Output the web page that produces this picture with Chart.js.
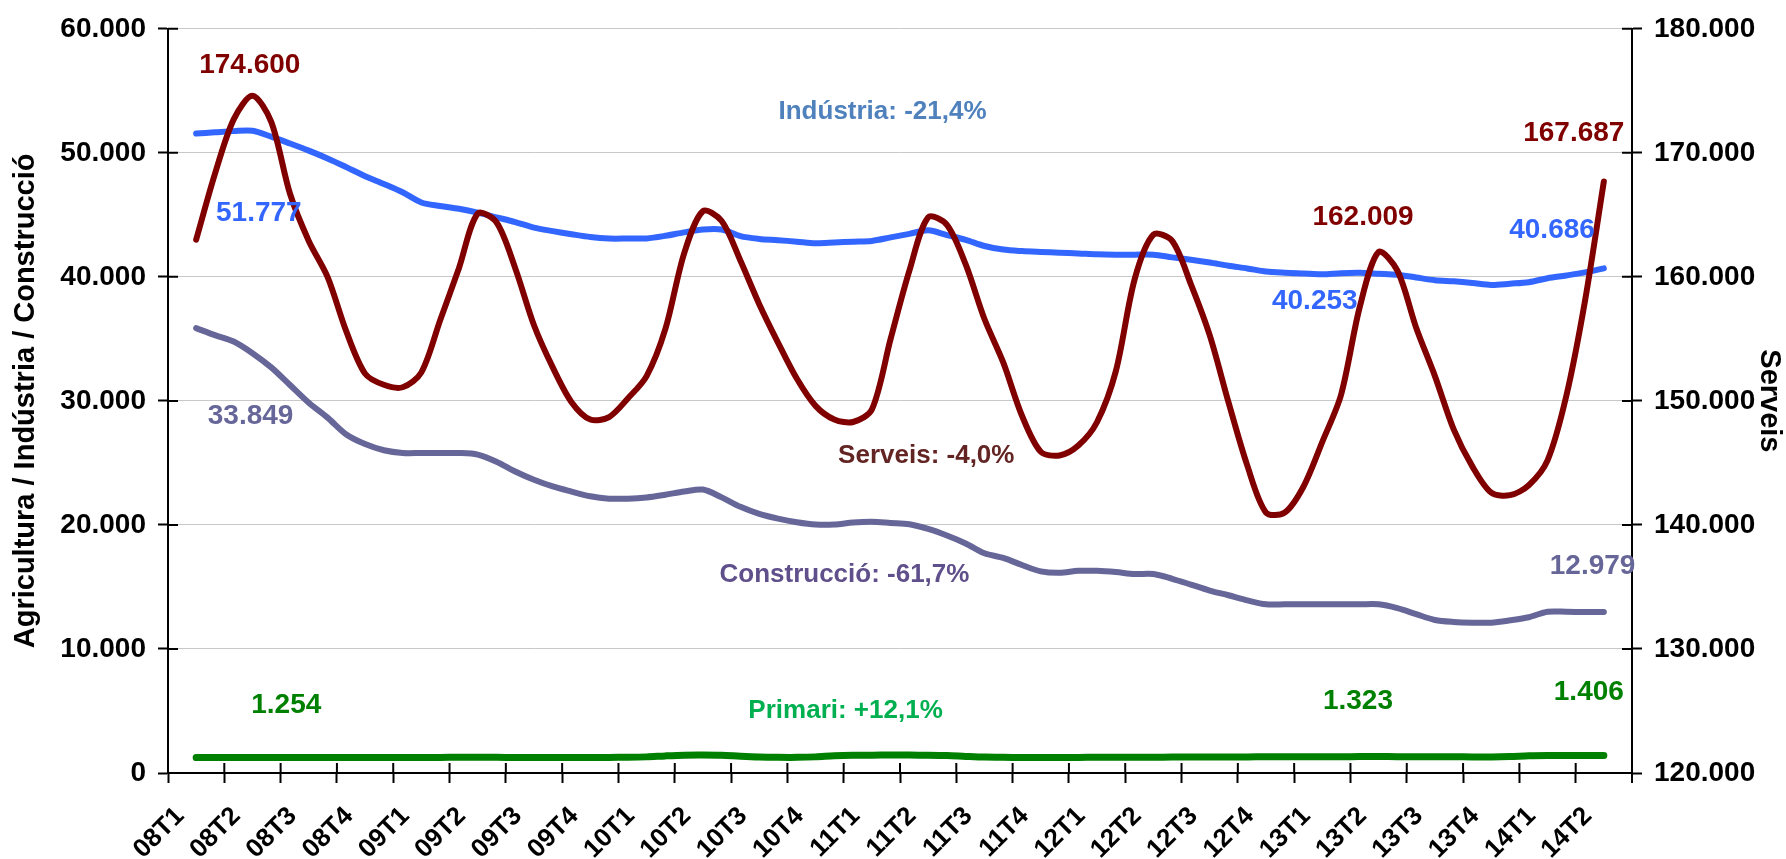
<!DOCTYPE html>
<html>
<head>
<meta charset="utf-8">
<script src="https://cdn.jsdelivr.net/npm/chart.js@4.4.1/dist/chart.umd.min.js"></script>
<style>
  html, body { margin: 0; padding: 0; background: #fff; }
  #wrap { width: 1786px; height: 859px; }
</style>
</head>
<body>
<div id="wrap"><canvas id="myCanvas" width="1786" height="859"></canvas></div>
<script>
// quarter tick labels (each quarter = 3 monthly categories)
const quarters = ['08T1','08T2','08T3','08T4','09T1','09T2','09T3','09T4',
  '10T1','10T2','10T3','10T4','11T1','11T2','11T3','11T4',
  '12T1','12T2','12T3','12T4','13T1','13T2','13T3','13T4','14T1','14T2']

// monthly values, first one sits in the middle of 08T1
const serveis = [163000,168300,172700,174600,172500,166700,162900,160000,155600,152200,
  151300,151100,152300,156500,160700,165100,164400,160700,156100,152700,
  149900,148500,148700,150200,152000,155800,161900,165300,164500,161300,
  157800,154700,151800,149600,148500,148300,149300,155000,160500,164800,
  164200,161000,156600,153100,148800,145900,145600,146400,148300,152400,
  159800,163400,162900,159400,155300,149900,144800,141000,141000,143100,
  146700,150500,157600,162009,160500,155900,152000,147700,144700,142600,
  142400,143200,145200,150400,158100,167687]

const industria = [51550,51650,51750,51777,51300,50750,50180,49550,48850,48120,
  47490,46820,46000,45720,45490,45180,44800,44420,43970,43690,
  43440,43210,43090,43090,43100,43310,43590,43820,43820,43280,
  43060,42960,42840,42710,42770,42840,42900,43180,43470,43750,
  43370,42990,42490,42200,42080,42010,41950,41890,41820,41790,
  41790,41790,41570,41380,41160,40900,40680,40430,40330,40270,
  40210,40300,40330,40253,40170,39950,39730,39640,39510,39350,
  39450,39570,39890,40110,40360,40686]

const construccio = [35870,35300,34790,33849,32700,31280,29850,28650,27290,26520,
  26020,25800,25800,25800,25800,25670,25100,24310,23640,23100,
  22690,22310,22120,22120,22220,22440,22690,22850,22220,21460,
  20890,20510,20220,20030,20030,20190,20250,20160,20060,19680,
  19150,18510,17720,17340,16770,16260,16140,16300,16300,16200,
  16040,16040,15660,15190,14710,14330,13920,13600,13600,13600,
  13600,13600,13600,13600,13290,12810,12340,12180,12120,12120,
  12310,12560,13000,13000,12979,12979]

const primari = [1240,1248,1252,1254,1250,1246,1242,1240,1240,1242,
  1246,1250,1254,1258,1262,1264,1260,1256,1252,1250,
  1250,1252,1258,1266,1300,1380,1440,1450,1430,1350,
  1290,1265,1262,1300,1390,1430,1440,1445,1442,1436,
  1410,1340,1280,1262,1258,1255,1256,1258,1262,1266,
  1270,1275,1280,1285,1290,1295,1300,1303,1306,1310,
  1314,1318,1321,1323,1320,1315,1310,1305,1300,1300,
  1330,1390,1410,1404,1404,1406]

// text notes on the chart: month index and value on the left axis
const notes = [
  { text: '174.600', m: 2.86, v: 57075, color: '#800000' },
  { text: '51.777', m: 3.34, v: 45120, color: '#3366FF' },
  { text: '33.849', m: 2.9, v: 28750, color: '#666699' },
  { text: '1.254', m: 4.8, v: 5430, color: '#008000' },
  { text: 'Indústria: -21,4%', m: 36.57, v: 53270, color: '#4F81BD' },
  { text: 'Serveis: -4,0%', m: 38.9, v: 25590, color: '#632523' },
  { text: 'Construcció: -61,7%', m: 34.54, v: 15976, color: '#5F4F8A' },
  { text: 'Primari: +12,1%', m: 34.6, v: 5030, color: '#00B050' },
  { text: '162.009', m: 62.17, v: 44830, color: '#800000' },
  { text: '40.253', m: 59.6, v: 38070, color: '#3366FF' },
  { text: '40.686', m: 72.24, v: 43773, color: '#3366FF' },
  { text: '167.687', m: 73.4, v: 51586, color: '#800000' },
  { text: '12.979', m: 74.4, v: 16690, color: '#666699' },
  { text: '1.323', m: 61.9, v: 5767, color: '#008000' },
  { text: '1.406', m: 74.2, v: 6500, color: '#008000' }
]

const FONT = '"Liberation Sans", Arial, sans-serif'

document.addEventListener('DOMContentLoaded', () => {
  createChart()
})

function thousands(v) {
  return String(v).replace(/\B(?=(\d{3})+(?!\d))/g, '.')
}

function createChart() {
  const months = quarters.flatMap(q => ['', q, ''])
  const pad = arr => [null].concat(arr)

  const notesPlugin = {
    id: 'notes',
    afterDatasetsDraw(chart) {
      const { ctx, scales } = chart
      ctx.save()
      ctx.textAlign = 'center'
      ctx.textBaseline = 'middle'
      for (const n of notes) {
        // series names a bit smaller than the numbers
        ctx.font = 'bold ' + (n.text.includes(':') ? 26 : 28) + 'px ' + FONT
        ctx.fillStyle = n.color
        ctx.fillText(n.text, scales.x.getPixelForValue(n.m + 1), scales.y.getPixelForValue(n.v))
      }
      ctx.restore()
    }
  }

  // tick marks crossing the axes (inner half)
  const innerTicks = {
    id: 'innerTicks',
    afterDraw(chart) {
      const { ctx, scales } = chart
      const { x, y } = scales
      ctx.save()
      ctx.strokeStyle = '#000'
      ctx.lineWidth = 2
      ctx.beginPath()
      for (const t of y.ticks) {
        const py = y.getPixelForValue(t.value)
        ctx.moveTo(x.left, py); ctx.lineTo(x.left + 10, py)
        ctx.moveTo(x.right, py); ctx.lineTo(x.right - 10, py)
      }
      for (let k = 0; k <= months.length; k += 3) {
        const px = x.getPixelForValue(k - 0.5)
        ctx.moveTo(px, y.bottom); ctx.lineTo(px, y.bottom - 10)
      }
      ctx.moveTo(x.right, y.bottom); ctx.lineTo(x.right, y.bottom + 10)
      ctx.stroke()
      ctx.restore()
    }
  }

  const context = document.getElementById('myCanvas').getContext('2d')

  new Chart(context, {
    type: 'line',
    data: {
      labels: months,
      datasets: [
        {
          label: 'Serveis',
          data: pad(serveis),
          yAxisID: 'y2',
          borderColor: '#800000',
          borderWidth: 6
        },
        {
          label: 'Indústria',
          data: pad(industria),
          yAxisID: 'y',
          borderColor: '#3366FF',
          borderWidth: 6
        },
        {
          label: 'Construcció',
          data: pad(construccio),
          yAxisID: 'y',
          borderColor: '#666699',
          borderWidth: 6
        },
        {
          label: 'Primari',
          data: pad(primari),
          yAxisID: 'y',
          borderColor: '#008000',
          borderWidth: 7
        }
      ]
    },
    options: {
      responsive: false,
      animation: false,
      devicePixelRatio: 1,
      layout: { padding: { top: 24, left: 0, right: 0, bottom: 0 } },
      plugins: {
        legend: { display: false },
        tooltip: { enabled: false }
      },
      elements: {
        point: { radius: 0 },
        line: { tension: 0.3, fill: false, borderCapStyle: 'round', borderJoinStyle: 'round' }
      },
      scales: {
        x: {
          type: 'category',
          offset: true,
          grid: {
            offset: true,
            drawOnChartArea: false,
            drawTicks: true,
            tickLength: 10,
            tickWidth: 2,
            tickColor: c => (c.index % 3 === 0 ? '#000' : 'rgba(0,0,0,0)')
          },
          border: { color: '#000', width: 2 },
          ticks: {
            autoSkip: false,
            minRotation: 45,
            maxRotation: 45,
            padding: 18,
            labelOffset: -16,
            color: '#000',
            font: { family: FONT, size: 26, weight: 'bold' },
            callback: (v, i) => months[i]
          },
          afterFit: s => { s.height = 86 }
        },
        y: {
          position: 'left',
          min: 0,
          max: 60000,
          ticks: {
            stepSize: 10000,
            padding: 12,
            color: '#000',
            font: { family: FONT, size: 28, weight: 'bold' },
            callback: v => thousands(v)
          },
          grid: { color: '#c8c8c8', lineWidth: 1, tickColor: '#000', tickWidth: 2, tickLength: 10 },
          border: { color: '#000', width: 2 },
          title: {
            display: true,
            text: 'Agricultura / Indústria / Construcció',
            color: '#000',
            font: { family: FONT, size: 29, weight: 'bold' },
            padding: { top: 9, bottom: 0 }
          },
          afterFit: s => { s.width = 168 }
        },
        y2: {
          position: 'right',
          min: 120000,
          max: 180000,
          ticks: {
            stepSize: 10000,
            padding: 12,
            color: '#000',
            font: { family: FONT, size: 28, weight: 'bold' },
            callback: v => thousands(v)
          },
          grid: { drawOnChartArea: false, tickColor: '#000', tickWidth: 2, tickLength: 10 },
          border: { color: '#000', width: 2 },
          title: {
            display: true,
            text: 'Serveis',
            color: '#000',
            font: { family: FONT, size: 29, weight: 'bold' },
            padding: { top: 0, bottom: 0 }
          },
          afterFit: s => { s.width = 154 }
        }
      }
    },
    plugins: [notesPlugin, innerTicks]
  })
}
</script>
</body>
</html>
